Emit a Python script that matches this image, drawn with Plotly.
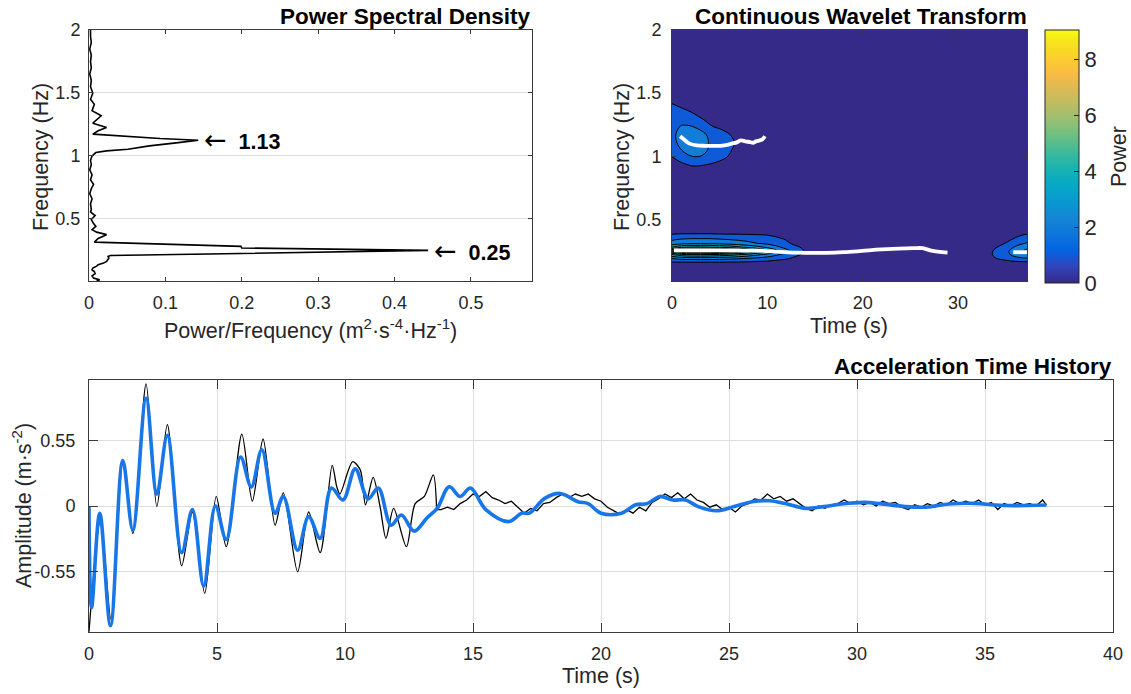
import plotly.graph_objects as go

W, H = 1131, 694
FONT = "Liberation Sans, Arial, sans-serif"
INK = "#262626"

# ---------------- Power spectral density ----------------
psd_freq = [0.008, 0.016, 0.030, 0.048, 0.065, 0.082, 0.095, 0.109, 0.125, 0.136,
            0.149, 0.162, 0.189, 0.202, 0.209, 0.250, 0.269, 0.282, 0.316, 0.345,
            0.375, 0.395, 0.415, 0.440, 0.463, 0.495, 0.527, 0.555, 0.574, 0.620,
            0.660, 0.700, 0.740, 0.774, 0.810, 0.850, 0.890, 0.930, 0.965, 1.000,
            1.027, 1.040, 1.053, 1.080, 1.106, 1.125, 1.138, 1.154, 1.173, 1.200,
            1.226, 1.260, 1.290, 1.319, 1.359, 1.385, 1.410, 1.450, 1.500, 1.550,
            1.600, 1.650, 1.700, 1.750, 1.800, 1.850, 1.900, 1.950, 2.000]
psd_power = [0.010, 0.014, 0.006, 0.004, 0.008, 0.007, 0.004, 0.005, 0.010, 0.012,
             0.019, 0.023, 0.026, 0.025, 0.028, 0.444, 0.200, 0.199, 0.007, 0.012,
             0.023, 0.010, 0.004, 0.009, 0.006, 0.003, 0.008, 0.002, 0.003, 0.002,
             0.004, 0.001, 0.003, 0.006, 0.002, 0.004, 0.001, 0.003, 0.002, 0.004,
             0.009, 0.023, 0.051, 0.079, 0.117, 0.143, 0.093, 0.047, 0.005, 0.012,
             0.023, 0.005, 0.010, 0.016, 0.004, 0.006, 0.007, 0.002, 0.005, 0.002,
             0.003, 0.001, 0.003, 0.002, 0.003, 0.001, 0.003, 0.002, 0.002]
psd_peaks = [1.13, 0.25]
psd_peak_power = [0.143, 0.444]
psd_xticks = [0, 0.1, 0.2, 0.3, 0.4, 0.5]
psd_yticks = [0.5, 1, 1.5, 2]

# ---------------- Continuous wavelet transform ----------
cwt_time = [0, 1, 2, 3, 4, 5, 6, 7, 8, 9, 10, 11, 12, 13, 14, 16, 22, 28, 32,
            33.5, 34.5, 35.5, 36.5, 37.24]
cwt_freq = [0.012, 0.12, 0.16, 0.19, 0.22, 0.25, 0.28, 0.31, 0.34, 0.37, 0.40,
            0.45, 0.70, 0.88, 0.93, 0.99, 1.05, 1.11, 1.17, 1.23, 1.29, 1.35,
            1.41, 1.47, 1.70, 2.00]
cwt_power = [
    [0, 0, 0, 0, 0, 0, 0, 0, 0, 0, 0, 0, 0, 0, 0, 0, 0, 0, 0, 0, 0, 0, 0, 0],
    [0.2, 0.2, 0.2, 0.2, 0.2, 0.2, 0.2, 0.2, 0.2, 0.2, 0.2, 0.15, 0.1, 0.05, 0, 0, 0, 0, 0, 0.05, 0.1, 0.15, 0.2, 0.2],
    [0.9, 0.95, 0.95, 0.95, 0.95, 0.95, 0.9, 0.9, 0.85, 0.8, 0.75, 0.65, 0.5, 0.3, 0.15, 0.08, 0.04, 0.04, 0.05, 0.3, 0.5, 0.7, 0.8, 0.85],
    [2.0, 2.3, 2.4, 2.4, 2.4, 2.3, 2.2, 2.1, 1.9, 1.7, 1.5, 1.3, 1.1, 0.8, 0.5, 0.25, 0.12, 0.12, 0.1, 0.8, 1.15, 1.5, 1.8, 1.9],
    [3.8, 4.6, 4.9, 4.9, 4.8, 4.6, 4.4, 4.0, 3.6, 3.1, 2.7, 2.1, 1.6, 1.15, 0.8, 0.4, 0.25, 0.25, 0.15, 0.95, 1.4, 2.0, 2.6, 2.9],
    [7.0, 8.6, 8.9, 8.9, 8.8, 8.6, 8.1, 7.3, 6.4, 5.4, 4.4, 3.3, 2.3, 1.5, 0.9, 0.5, 0.3, 0.3, 0.15, 0.9, 1.45, 2.1, 2.8, 3.2],
    [4.0, 4.8, 5.1, 5.1, 5.0, 4.8, 4.6, 4.2, 3.8, 3.3, 2.8, 2.2, 1.7, 1.15, 0.8, 0.45, 0.28, 0.3, 0.1, 0.7, 1.2, 1.8, 2.4, 2.8],
    [2.4, 2.7, 2.8, 2.8, 2.8, 2.7, 2.6, 2.4, 2.2, 2.0, 1.8, 1.5, 1.15, 0.8, 0.5, 0.3, 0.2, 0.2, 0.08, 0.45, 0.8, 1.3, 1.8, 2.1],
    [1.9, 2.1, 2.2, 2.2, 2.2, 2.1, 2.0, 1.9, 1.8, 1.7, 1.55, 1.3, 0.95, 0.6, 0.35, 0.2, 0.1, 0.1, 0.05, 0.25, 0.5, 0.95, 1.35, 1.6],
    [1.3, 1.4, 1.4, 1.4, 1.4, 1.35, 1.3, 1.3, 1.25, 1.2, 1.1, 0.85, 0.6, 0.35, 0.2, 0.1, 0.05, 0.05, 0.03, 0.1, 0.3, 0.65, 1.0, 1.15],
    [0.6, 0.65, 0.65, 0.65, 0.65, 0.6, 0.6, 0.6, 0.55, 0.55, 0.5, 0.4, 0.3, 0.2, 0.1, 0.05, 0.02, 0.02, 0, 0.05, 0.15, 0.35, 0.6, 0.8],
    [0.2, 0.2, 0.2, 0.2, 0.2, 0.2, 0.2, 0.2, 0.2, 0.2, 0.15, 0.1, 0.1, 0.05, 0.02, 0, 0, 0, 0, 0, 0.05, 0.1, 0.2, 0.3],
    [0, 0, 0, 0, 0, 0, 0, 0, 0, 0, 0, 0, 0, 0, 0, 0, 0, 0, 0, 0, 0, 0, 0, 0],
    [0.2, 0.4, 0.6, 0.6, 0.5, 0.4, 0.3, 0.2, 0.1, 0.05, 0, 0, 0, 0, 0, 0, 0, 0, 0, 0, 0, 0, 0, 0],
    [0.5, 0.8, 1.05, 1.05, 0.9, 0.7, 0.5, 0.3, 0.15, 0.05, 0, 0, 0, 0, 0, 0, 0, 0, 0, 0, 0, 0, 0, 0],
    [0.95, 1.4, 1.9, 1.9, 1.55, 1.25, 0.9, 0.5, 0.2, 0.1, 0, 0, 0, 0, 0, 0, 0, 0, 0, 0, 0, 0, 0, 0],
    [1.5, 2.0, 2.4, 2.4, 1.85, 1.5, 1.15, 0.6, 0.3, 0.1, 0, 0, 0, 0, 0, 0, 0, 0, 0, 0, 0, 0, 0, 0],
    [1.7, 2.3, 2.6, 2.5, 1.9, 1.6, 1.25, 0.8, 0.4, 0.15, 0, 0, 0, 0, 0, 0, 0, 0, 0, 0, 0, 0, 0, 0],
    [1.8, 2.3, 2.5, 2.3, 1.8, 1.4, 1.05, 0.6, 0.3, 0.1, 0, 0, 0, 0, 0, 0, 0, 0, 0, 0, 0, 0, 0, 0],
    [1.7, 2.1, 2.1, 1.8, 1.1, 0.9, 0.7, 0.4, 0.2, 0.05, 0, 0, 0, 0, 0, 0, 0, 0, 0, 0, 0, 0, 0, 0],
    [1.5, 1.7, 1.5, 1.1, 0.8, 0.55, 0.4, 0.2, 0.1, 0, 0, 0, 0, 0, 0, 0, 0, 0, 0, 0, 0, 0, 0, 0],
    [1.3, 1.25, 1.0, 0.7, 0.45, 0.3, 0.2, 0.1, 0, 0, 0, 0, 0, 0, 0, 0, 0, 0, 0, 0, 0, 0, 0, 0],
    [1.05, 0.8, 0.6, 0.4, 0.25, 0.15, 0.1, 0, 0, 0, 0, 0, 0, 0, 0, 0, 0, 0, 0, 0, 0, 0, 0, 0],
    [0.6, 0.4, 0.3, 0.2, 0.1, 0, 0, 0, 0, 0, 0, 0, 0, 0, 0, 0, 0, 0, 0, 0, 0, 0, 0, 0],
    [0, 0, 0, 0, 0, 0, 0, 0, 0, 0, 0, 0, 0, 0, 0, 0, 0, 0, 0, 0, 0, 0, 0, 0],
    [0, 0, 0, 0, 0, 0, 0, 0, 0, 0, 0, 0, 0, 0, 0, 0, 0, 0, 0, 0, 0, 0, 0, 0],
]
ridge_hi_t = [0.85, 1.3, 1.84, 2.6, 3.5, 5.1, 5.8, 6.25, 6.8, 7.2, 7.7, 8.2, 8.5, 8.8, 9.2, 9.5, 9.75]
ridge_hi_f = [1.158, 1.13, 1.10, 1.086, 1.083, 1.083, 1.09, 1.10, 1.11, 1.126, 1.118, 1.112, 1.107, 1.118, 1.126, 1.135, 1.158]
ridge_lo_t = [0.2, 3, 6, 9, 11, 13.2, 16.2, 18, 19.9, 22, 25.4, 26.3, 27.2, 28.9]
ridge_lo_f = [0.255, 0.255, 0.255, 0.252, 0.245, 0.236, 0.235, 0.24, 0.25, 0.262, 0.272, 0.272, 0.252, 0.237]
ridge_end_t = [35.8, 37.24]
ridge_end_f = [0.24, 0.24]
cwt_xticks = [0, 10, 20, 30]
cbar_ticks = [0, 2, 4, 6, 8]

# ---------------- Acceleration time history ------------
filt_t = [0, 0.1, 0.42, 0.84, 1.32, 1.71, 2.23, 2.65, 3.06, 3.62,
          4.04, 4.48, 4.94, 5.36, 5.92, 6.34, 6.75, 7.27, 7.59, 8.15,
          8.58, 9.03, 9.47, 9.92, 10.4, 10.9, 11.3, 11.8, 12.2, 12.7,
          13.2, 13.6, 14.07, 14.5, 14.9, 15.5, 16.4, 16.9, 17.2, 17.8,
          18.4, 19.1, 19.5, 20.0, 20.8, 21.35, 21.8, 22.3, 22.8, 23.3,
          23.8, 24.5, 25.2, 25.9, 26.6, 27.2, 28.0, 28.7, 29.4, 30.3,
          30.9, 31.9, 32.7, 33.6, 34.6, 35.4, 36.1, 37.4]
filt_v = [0.0, -0.85, -0.06, -1.0, 0.38, -0.2, 0.9, 0.1, 0.59, -0.39,
          -0.03, -0.67, 0.0, -0.28, 0.41, 0.16, 0.47, -0.06, 0.08, -0.37,
          -0.09, -0.27, 0.15, 0.05, 0.31, 0.06, 0.15, -0.16, -0.075, -0.21,
          -0.1, -0.02, 0.16, 0.08, 0.15, -0.03, -0.13, -0.06, -0.06, 0.064,
          0.105, 0.036, 0.02, -0.06, -0.06, 0.01, 0.02, 0.08, 0.05, 0.05,
          -0.005, -0.04, -0.005, 0.036, 0.044, 0.02, -0.02, -0.005, 0.017, 0.03,
          0.02, -0.005, -0.01, 0.017, 0.022, 0.008, 0.003, 0.008]
raw_t = [0, 0.45, 0.86, 1.32, 1.71, 2.23, 2.65, 3.06, 3.62, 4.04,
         4.52, 4.97, 5.36, 5.97, 6.38, 6.8, 7.27, 7.59, 8.15, 8.58,
         9.03, 9.5, 9.68, 9.8, 10.3, 10.6, 10.8, 11.1, 11.37, 11.6,
         11.9, 12.4, 12.74, 13.1, 13.45, 13.58]
raw_v = [-1.05, -0.12, -0.95, 0.37, -0.23, 1.02, -0.005, 0.68, -0.5, -0.05,
         -0.73, 0.08, -0.34, 0.6, 0.04, 0.56, -0.16, 0.11, -0.55, -0.05,
         -0.39, 0.34, 0.16, 0.1, 0.37, 0.3, 0.01, 0.24, -0.005, -0.27,
         -0.02, -0.34, 0.02, 0.08, 0.26, -0.03]
raw_tail_t = [13.58, 13.75, 14.0, 14.25, 14.5, 14.75, 15.0, 15.25, 15.5, 15.75,
              16.0, 16.25, 16.5, 16.75, 17.0, 17.25, 17.5, 17.75, 18.0, 18.25,
              18.5, 18.75, 19.0, 19.25, 19.5, 19.75, 20.0, 20.25, 20.5, 20.75,
              21.0, 21.25, 21.5, 21.75, 22.0, 22.25, 22.5, 22.75, 23.0, 23.25,
              23.5, 23.75, 24.0, 24.25, 24.5, 24.75, 25.0, 25.25, 25.5, 25.75,
              26.0, 26.25, 26.5, 26.75, 27.0, 27.25, 27.5, 27.75, 28.0, 28.25,
              28.5, 28.75, 29.0, 29.25, 29.5, 29.75, 30.0, 30.25, 30.5, 30.75,
              31.0, 31.25, 31.5, 31.75, 32.0, 32.25, 32.5, 32.75, 33.0, 33.25,
              33.5, 33.75, 34.0, 34.25, 34.5, 34.75, 35.0, 35.25, 35.5, 35.75,
              36.0, 36.25, 36.5, 36.75, 37.0, 37.25, 37.4]
raw_tail_v = [-0.03, -0.03, -0.01, -0.03, 0.02, 0.05, 0.10, 0.08, 0.12, 0.07,
              0.05, 0.02, 0.04, -0.01, -0.06, -0.02, -0.04, 0.02, 0.03, 0.07,
              0.10, 0.07, 0.10, 0.08, 0.10, 0.06, 0.04, -0.01, -0.04, -0.07,
              -0.03, -0.06, -0.01, -0.04, 0.03, 0.06, 0.10, 0.07, 0.11, 0.06,
              0.10, 0.05, 0.03, -0.01, 0.01, -0.03, -0.01, -0.05, 0.0, 0.02,
              0.06, 0.05, 0.10, 0.06, 0.08, 0.04, 0.06, 0.02, -0.02, -0.04,
              0.0, -0.02, 0.01, 0.02, 0.05, 0.02, 0.04, 0.01, 0.03, 0.0,
              0.04, 0.02, 0.03, -0.01, -0.03, 0.01, -0.01, 0.02, 0.0, 0.03,
              0.01, 0.05, 0.02, 0.04, 0.02, 0.05, 0.01, 0.03, -0.03, 0.02,
              0.0, 0.03, 0.01, 0.02, 0.0, 0.05, 0.01]
amp_ticks = [-0.55, 0, 0.55]
time_ticks = [0, 5, 10, 15, 20, 25, 30, 35, 40]

PARULA = [
    [0.000, "rgb(53,42,135)"], [0.0635, "rgb(50,67,186)"], [0.127, "rgb(3,99,225)"],
    [0.190, "rgb(13,117,220)"], [0.254, "rgb(20,133,212)"], [0.317, "rgb(9,152,209)"],
    [0.381, "rgb(6,167,198)"], [0.444, "rgb(21,177,180)"], [0.508, "rgb(56,185,158)"],
    [0.571, "rgb(101,190,134)"], [0.635, "rgb(146,191,115)"], [0.698, "rgb(183,189,100)"],
    [0.762, "rgb(217,186,86)"], [0.825, "rgb(248,187,68)"], [0.889, "rgb(252,206,46)"],
    [0.952, "rgb(245,228,29)"], [1.000, "rgb(249,251,14)"],
]


def px(x):
    return x / W


def py(y):
    return 1 - y / H


fig = go.Figure()

# PSD
fig.add_trace(go.Scatter(x=psd_power, y=psd_freq, mode="lines",
                         line=dict(color="black", width=1.6),
                         xaxis="x", yaxis="y", hoverinfo="skip"))

# CWT contour
fig.add_trace(go.Contour(x=cwt_time, y=cwt_freq, z=cwt_power,
                         colorscale=PARULA, showscale=False,
                         contours=dict(coloring="fill", start=1, end=9, size=1),
                         line=dict(color="black", width=1.0, smoothing=1.0),
                         xaxis="x2", yaxis="y2", hoverinfo="skip"))
for tt, ff in [(ridge_hi_t, ridge_hi_f), (ridge_lo_t, ridge_lo_f), (ridge_end_t, ridge_end_f)]:
    fig.add_trace(go.Scatter(x=tt, y=ff, mode="lines",
                             line=dict(color="white", width=3.8, shape="spline"),
                             xaxis="x2", yaxis="y2", hoverinfo="skip"))
# continuous colorbar
fig.add_trace(go.Scatter(x=[None], y=[None], mode="markers",
                         marker=dict(color=[0], colorscale=PARULA, cmin=0, cmax=9.05,
                                     showscale=True,
                                     colorbar=dict(x=px(1045), xanchor="left", xpad=0,
                                                   y=py(30), yanchor="top", ypad=0,
                                                   len=253 / H, lenmode="fraction",
                                                   thickness=34, thicknessmode="pixels",
                                                   outlinewidth=1, outlinecolor=INK,
                                                   tickvals=cbar_ticks, ticks="inside",
                                                   ticklen=5, tickcolor=INK,
                                                   tickfont=dict(family=FONT, size=22, color=INK))),
                         xaxis="x2", yaxis="y2", hoverinfo="skip"))

# Time history
fig.add_trace(go.Scatter(x=raw_t, y=raw_v, mode="lines",
                         line=dict(color="black", width=1.3, shape="spline", smoothing=0.8),
                         xaxis="x3", yaxis="y3", hoverinfo="skip"))
fig.add_trace(go.Scatter(x=raw_tail_t, y=raw_tail_v, mode="lines",
                         line=dict(color="black", width=1.3),
                         xaxis="x3", yaxis="y3", hoverinfo="skip"))
fig.add_trace(go.Scatter(x=filt_t, y=filt_v, mode="lines",
                         line=dict(color="rgb(24,118,230)", width=3.6, shape="spline", smoothing=1.0),
                         xaxis="x3", yaxis="y3", hoverinfo="skip"))


def axis(domain, rng, ticks, anchor, grid, ticklen, standoff, labels=None):
    d = dict(domain=domain, range=rng, tickvals=ticks, anchor=anchor,
             showline=True, linecolor="#3a3a3a", linewidth=1, mirror="ticks",
             ticks="inside", ticklen=ticklen, tickcolor="#3a3a3a",
             tickfont=dict(family=FONT, size=18, color=INK),
             showgrid=grid, gridcolor="#dedede", gridwidth=1, zeroline=False,
             ticklabelstandoff=standoff, fixedrange=True, automargin=False)
    if labels is not None:
        d["ticktext"] = labels
    return d


xd1 = [px(89), px(532)]
yd_top = [py(281), py(30)]
xd2 = [px(672), px(1027)]
xd3 = [px(89), px(1113)]
yd3 = [py(632), py(380)]

fig.update_layout(
    width=W, height=H, margin=dict(l=0, r=0, t=0, b=0, pad=0), autosize=False,
    paper_bgcolor="white", plot_bgcolor="white", showlegend=False,
    xaxis=axis(xd1, [0, 0.58], psd_xticks, "y", False, 4, 5,
               ["0", "0.1", "0.2", "0.3", "0.4", "0.5"]),
    yaxis=axis(yd_top, [0.007, 2], psd_yticks, "x", True, 4, 4,
               ["0.5", "1", "1.5", "2"]),
    xaxis2=axis(xd2, [0, 37.24], cwt_xticks, "y2", False, 4, 5),
    yaxis2=axis(yd_top, [0.012, 2], psd_yticks, "x2", False, 4, 6,
                ["0.5", "1", "1.5", "2"]),
    xaxis3=axis(xd3, [0, 40], time_ticks, "y3", True, 9, 5),
    yaxis3=axis(yd3, [-1.053, 1.053], amp_ticks, "x3", True, 9, 9,
                ["-0.55", "0", "0.55"]),
)

ann = []


def text(x, y, s, size=21, bold=False, angle=0, xanchor="center"):
    ann.append(dict(x=px(x), y=py(y), xref="paper", yref="paper", text=s,
                    showarrow=False, textangle=angle, xanchor=xanchor, yanchor="middle",
                    borderpad=0, font=dict(family=FONT, size=size, color="black" if bold else INK)))


text(532, 17, "<b>Power Spectral Density</b>", size=22.5, bold=True, xanchor="right")
text(1028, 17, "<b>Continuous Wavelet Transform</b>", size=22.5, bold=True, xanchor="right")
text(1113, 367, "<b>Acceleration Time History</b>", size=22.5, bold=True, xanchor="right")

text(41, 157, "Frequency (Hz)", size=21.5, angle=-90)
text(310, 329, "Power/Frequency (m<sup>2</sup>·s<sup>-4</sup>·Hz<sup>-1</sup>)", size=21.5)
text(622, 157, "Frequency (Hz)", size=21.5, angle=-90)
text(849, 326, "Time (s)", size=21.5)
text(1119, 157, "Power", size=21.5, angle=-90)
text(22, 506, "Amplitude (m·s<sup>-2</sup>)", size=21.5, angle=-90)
text(601, 676, "Time (s)", size=21.5)

for pk, pw in zip(psd_peaks, psd_peak_power):
    ann.append(dict(x=pw + 0.006, y=pk, xref="x", yref="y", xanchor="left", yanchor="middle",
                    text="<span style='font-family:DejaVu Sans;font-size:27px'>←</span>&nbsp;&nbsp;<b>%.2f</b>" % pk,
                    showarrow=False, borderpad=0,
                    font=dict(family=FONT, size=21.5, color="black")))

fig.update_layout(annotations=ann)
fig.write_html("out.html",
               post_script="document.body.style.margin='0px';document.body.style.padding='0px';")
